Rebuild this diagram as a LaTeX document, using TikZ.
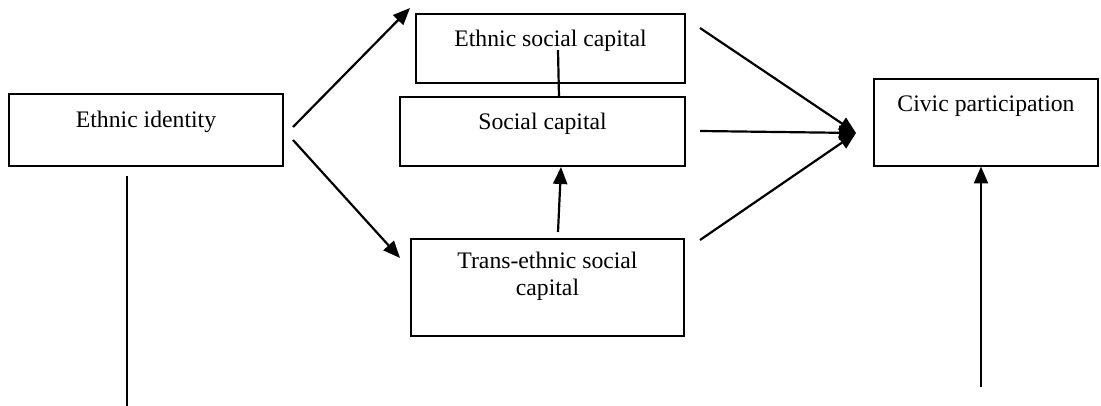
\documentclass[tikz,border=0pt]{standalone}
\usepackage{fontspec}
\setmainfont{Liberation Serif}
\usetikzlibrary{arrows.meta}
\begin{document}
\begin{tikzpicture}[x=1pt,y=-1pt,
  box/.style={draw,line width=1.5pt,rectangle,inner sep=0pt},
  txt/.style={anchor=base,inner sep=0pt,font=\fontsize{23.7}{27}\selectfont,align=center},
  arr/.style={line width=2.2pt,-{Triangle[length=17pt,width=14pt]}},
  ln/.style={line width=2.2pt}]
\useasboundingbox (0,0) rectangle (1101,406);
% boxes
\node[box,minimum width=274pt,minimum height=72pt] (ei) at (146,130) {};
\node[box,minimum width=269pt,minimum height=69pt] (esc) at (550.5,48.5) {};
\node[box,minimum width=285pt,minimum height=69pt] (sc) at (542.5,131.5) {};
\node[box,minimum width=273pt,minimum height=97pt] (tsc) at (547.5,287.5) {};
\node[box,minimum width=224pt,minimum height=87pt] (cp) at (986,122.5) {};
% texts
\node[txt] (tei) at (146,128) {Ethnic identity};
\node[txt] (tesc) at (550.5,47) {Ethnic social capital};
\node[txt] (tsc0) at (542.5,130) {Social capital};
\node[txt,anchor=north] (ttsc) at (547.5,252) {Trans-ethnic social\\capital};
\node[txt] (tcp) at (986,112) {Civic participation};
% connector end points
\coordinate (p1) at (293,127);
\coordinate (p2) at (410,8);
\coordinate (p3) at (293,140);
\coordinate (p4) at (400,258);
\coordinate (s1) at (700,28);
\coordinate (s2) at (700,131);
\coordinate (s3) at (700,240);
\coordinate (hub) at (856,133);
\coordinate (u1) at (558,232);
\coordinate (u2) at (561,167);
\coordinate (l1) at (558,50);
\coordinate (l2) at (559,97);
\coordinate (v1) at (127,176);
\coordinate (v2) at (127,406);
\coordinate (r1) at (981,387);
\coordinate (r2) at (981,166.5);
% connectors
\draw[arr] (p1) -- (p2);
\draw[arr] (p3) -- (p4);
\draw[arr] (s1) -- (hub);
\draw[arr] (s2) -- (hub);
\draw[arr] (s3) -- (hub);
\draw[arr] (u1) -- (u2);
\draw[ln] (l1) -- (l2);
\draw[line width=1.2pt] (v1) -- (v2);
\draw[arr] (r1) -- (r2);
\end{tikzpicture}
\end{document}
